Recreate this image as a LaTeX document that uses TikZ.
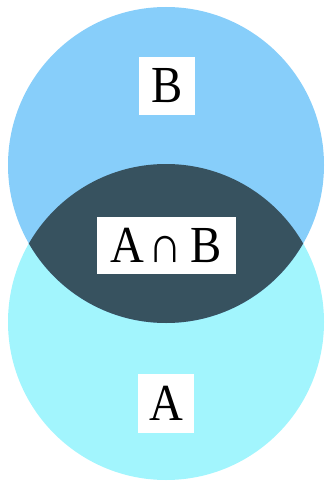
\documentclass[tikz,border=0pt]{standalone}
\usepackage{graphicx}
\usepackage{fontspec}
\setmainfont{Liberation Serif}
\definecolor{setB}{HTML}{87CEFA}
\definecolor{setA}{HTML}{A2F5FD}
\definecolor{setAB}{HTML}{37525F}
\begin{document}
\begin{tikzpicture}[x=1pt,y=-1pt,
  lbl/.style={fill=white, inner sep=0pt, font=\fontsize{52}{55}\selectfont},
]
\useasboundingbox (0,0) rectangle (324,481);
\fill[setA] (166,322) circle[radius=158];
\fill[setB] (166,165) circle[radius=158];
\begin{scope}
  \clip (166,322) circle[radius=158];
  \fill[setAB] (166,165) circle[radius=158];
\end{scope}
\node[lbl, minimum width=56pt, minimum height=58pt] (b) at (167,86) {\scalebox{0.9}[1]{B}};
\node[lbl, minimum width=56pt, minimum height=59pt] (a) at (166,403.5) {\scalebox{0.9}[1]{A}};
\node[lbl, minimum width=139pt, minimum height=57pt] (ab) at (166.5,245.5) {\scalebox{0.9}[1]{A\hspace{4pt}∩\hspace{10pt}B}};
\end{tikzpicture}
\end{document}
